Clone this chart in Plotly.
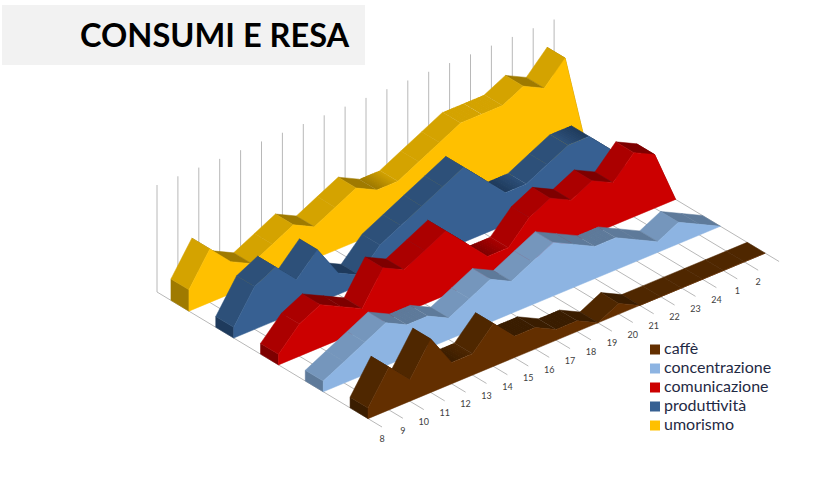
import plotly.graph_objects as go

TITLE = "CONSUMI E RESA"
hours = ["8", "9", "10", "11", "12", "13", "14", "15", "16", "17", "18", "19", "20", "21", "22", "23", "24", "1", "2"]
umorismo = [2, 5, 3, 2, 3, 4, 3, 4, 5, 4, 4, 5, 6, 7, 7, 7, 8, 7, 9]
produttivita = [1, 4, 5, 3, 5, 2, 1, 3, 4, 5, 6, 7, 5, 3, 3, 4, 5, 5, 3]
comunicazione = [1, 3, 4, 3, 2, 5, 4, 5, 6, 4, 2, 2, 4, 5, 4, 5, 4, 6, 5]
concentrazione = [1, 2, 3, 4, 3, 3, 2, 3, 4, 3, 4, 5, 4, 3, 3, 2, 1, 2, 1]
caffe = [1, 4, 2, 5, 2, 2, 4, 2, 2, 1, 1, 0, 1, 0, 0, 0, 0, 0, 0]

# name, values, front, rising, falling
series = [
    ("umorismo", umorismo, "#FFC000", "#D4A300", "#9F7A00"),
    ("produttività", produttivita, "#376092", "#2D5079", "#1E3A5C"),
    ("comunicazione", comunicazione, "#CC0000", "#AB0000", "#7E0000"),
    ("concentrazione", concentrazione, "#8DB4E2", "#7596BC", "#5E7A9A"),
    ("caffè", caffe, "#632F00", "#4F2700", "#3A1D00"),
]

# projection of the 3-D box onto the page
W, H = 827, 479
OX, OY = 157, 292
SX, SY = 20.9, -8.71
DX, DY = 225, 135
UNIT = 10.7
WALL = 10
DEPTH_FRONT = [0.142, 0.341, 0.54, 0.739, 0.938]
THICK = 0.08
GRAD_STEPS = 10


def proj(i, d, v=0):
    return OX + i * SX + d * DX, OY + i * SY + d * DY - v * UNIT


def poly(fig, pts, color, edge=0.5):
    fig.add_trace(go.Scatter(
        x=[p[0] for p in pts] + [pts[0][0]], y=[p[1] for p in pts] + [pts[0][1]],
        mode="lines", fill="toself", fillcolor=color,
        line=dict(color=color, width=edge), hoverinfo="skip", showlegend=False))


def mix(a, b, t):
    ca = [int(a[k:k + 2], 16) for k in (1, 3, 5)]
    cb = [int(b[k:k + 2], 16) for k in (1, 3, 5)]
    return "#%02X%02X%02X" % tuple(round(x + (y - x) * t) for x, y in zip(ca, cb))


fig = go.Figure()
n = len(hours)

# floor and wall gridlines
gx, gy = [], []
for i in range(n + 1):
    for a, b in [(proj(i, 0), proj(i, 1)), (proj(i, 0), proj(i, 0, WALL))]:
        gx += [a[0], b[0], None]
        gy += [a[1], b[1], None]
fig.add_trace(go.Scatter(x=gx, y=gy, mode="lines", line=dict(color="#B8B8B8", width=1),
                         hoverinfo="skip", showlegend=False))

for (name, vals, c_front, c_rise, c_fall), f in zip(series, DEPTH_FRONT):
    v = list(vals) + [0]
    b = f - THICK
    poly(fig, [proj(0, b), proj(0, b, v[0]), proj(0, f, v[0]), proj(0, f)], c_fall)

    def seg_col(i):
        if i < 0 or i >= n:
            return c_rise
        if v[i + 1] < v[i]:
            return c_fall
        if v[i + 1] > v[i]:
            return c_rise
        return None

    for i in range(n - 1, -1, -1):
        col = seg_col(i)
        if col is None and v[i] > 0:
            left = seg_col(i - 1) or c_rise
            right = seg_col(i + 1) or c_rise
            for s in range(GRAD_STEPS - 1, -1, -1):
                t0, t1 = s / GRAD_STEPS, min(1, (s + 1.4) / GRAD_STEPS)
                poly(fig, [proj(i + t0, f, v[i]), proj(i + t1, f, v[i]),
                           proj(i + t1, b, v[i]), proj(i + t0, b, v[i])],
                     mix(left, right, (s + 0.5) / GRAD_STEPS), edge=0)
        else:
            poly(fig, [proj(i, f, v[i]), proj(i + 1, f, v[i + 1]),
                       proj(i + 1, b, v[i + 1]), proj(i, b, v[i])], col or c_rise)
    poly(fig, [proj(0, f)] + [proj(i, f, v[i]) for i in range(n + 1)], c_front)

# category labels
lab = [proj(i, 1) for i in range(n)]
fig.add_trace(go.Scatter(x=[p[0] for p in lab], y=[p[1] + 13 for p in lab], mode="text", text=hours,
                         textfont=dict(family="Lato", size=9, color="#404040"),
                         hoverinfo="skip", showlegend=False))

# legend entries
for name, vals, c_front, c_rise, c_fall in reversed(series):
    fig.add_trace(go.Scatter(x=[None], y=[None], mode="markers",
                             name='<span style="font-size:16px">%s</span>' % name,
                             marker=dict(symbol="square", size=10, color=c_front)))

fig.update_layout(
    width=W, height=H, autosize=False,
    margin=dict(l=0, r=0, t=0, b=0),
    paper_bgcolor="white", plot_bgcolor="white",
    xaxis=dict(range=[0, W], visible=False, fixedrange=True),
    yaxis=dict(range=[H, 0], visible=False, fixedrange=True),
    title=dict(text=TITLE, x=80 / W, xanchor="left", y=1 - 36 / H, yanchor="middle",
               font=dict(family="Lato", size=32.6, color="black", weight="bold")),
    legend=dict(x=639 / W, y=1 - 335 / H, xanchor="left", yanchor="top",
                bgcolor="rgba(0,0,0,0)", traceorder="normal", itemwidth=30, indentation=-15,
                font=dict(family="Lato", size=12, color="#1F2A44"), tracegroupgap=0),
    shapes=[dict(type="rect", xref="x", yref="y", x0=2, x1=365, y0=65, y1=5,
                 fillcolor="#F2F2F2", line_width=0, layer="below")],
)
POST = """
document.body.style.margin = '0';
document.querySelectorAll('.legend g.legendpoints').forEach(function (g) {
  g.setAttribute('transform', 'translate(11,0)');
});
"""
fig.write_html("out.html", post_script=POST, config={"displayModeBar": False})
